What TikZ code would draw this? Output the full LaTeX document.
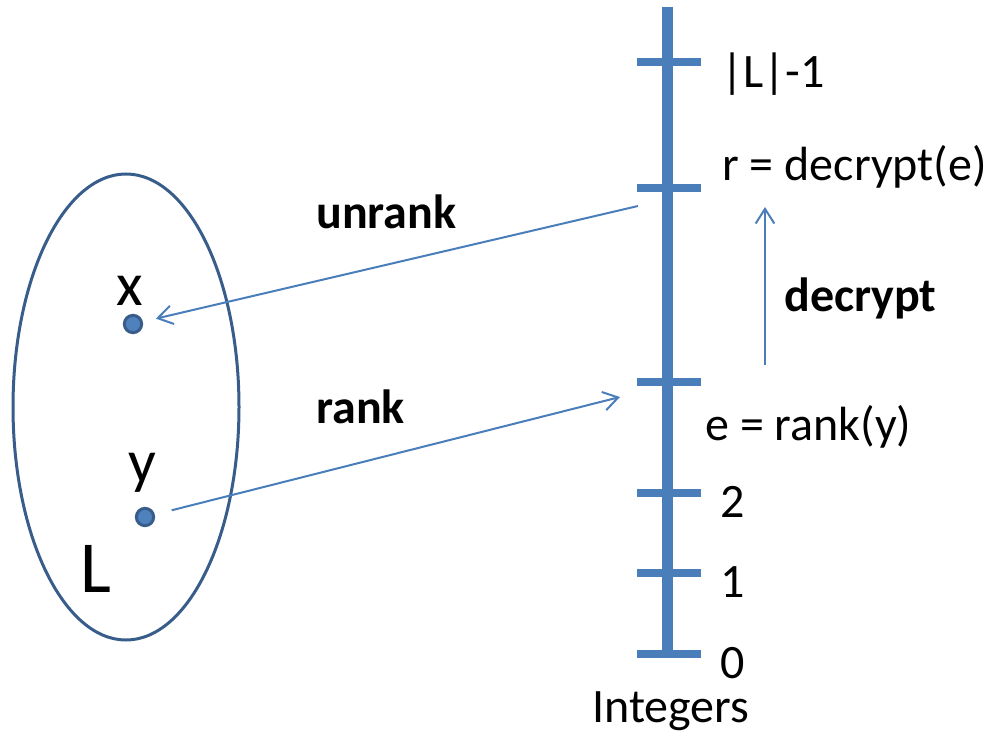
\documentclass[tikz,border=0pt]{standalone}
\usepackage{fontspec}
\setmainfont{Carlito}
\usetikzlibrary{arrows.meta}
\definecolor{axisblue}{HTML}{4A7EBB}
\definecolor{dotfill}{HTML}{4F81BD}
\definecolor{darkblue}{HTML}{385D8A}
\begin{document}
\begin{tikzpicture}[x=0.75pt,y=-0.75pt,
  lbl/.style={font=\fontsize{36}{42}\selectfont, inner sep=0pt, anchor=base west},
  blbl/.style={font=\fontsize{36}{42}\selectfont\bfseries, inner sep=0pt, anchor=base west},
  conn/.style={axisblue, line width=1.5pt, -{Straight Barb[length=11pt,width=14pt,line width=1.5pt]}},
  dot/.style={circle, draw=darkblue, fill=dotfill, line width=2.25pt, minimum size=13pt, inner sep=0pt},
  axisline/.style={axisblue, line width=8.25pt},
  tick/.style={axisblue, line width=6pt}]
\useasboundingbox (0,0) rectangle (988,735);
% set L
\draw[darkblue, line width=2.25pt] (126,407) ellipse [x radius=113, y radius=233];
\node[dot] (x) at (133,324) {};
\node[dot] (y) at (145,517) {};
\node[font=\fontsize{46}{52}\selectfont, inner sep=0pt, anchor=base] (xl) at (130,305) {x};
\node[font=\fontsize{46}{52}\selectfont, inner sep=0pt, anchor=base] (yl) at (142,482) {y};
\node[font=\fontsize{55}{62}\selectfont, inner sep=0pt, anchor=base] (Ll) at (96,592) {L};
% axis
\draw[axisline] (667,7) -- (667,654);
\foreach \t in {62,188,382,493,573,654}
  \draw[tick] (637,\t) -- (701,\t);
% labels on axis
\node[lbl] (lmax) at (721,88) {|L|-1};
\node[lbl] (rl) at (722,180) {r = decrypt(e)};
\node[lbl] (el) at (705,440) {e = rank(y)};
\node[lbl] (t2) at (720,517) {2};
\node[lbl] (t1) at (720,597) {1};
\node[lbl] (t0) at (720,678) {0};
\node[lbl] (ints) at (592,722) {Integers};
% arrow labels
\node[blbl] (unr) at (316,228) {unrank};
\node[blbl] (rnk) at (316,423) {rank};
\node[blbl] (dec) at (784,311) {decrypt};
% connectors
\coordinate (ustart) at (638,206);
\coordinate (rend) at (620,397);
\coordinate (dstart) at (765,365);
\coordinate (dend) at (765,207);
\draw[conn, shorten >=10pt] (ustart) -- (x);
\draw[conn, shorten <=13pt] (y) -- (rend);
\draw[conn] (dstart) -- (dend);
\end{tikzpicture}
\end{document}
